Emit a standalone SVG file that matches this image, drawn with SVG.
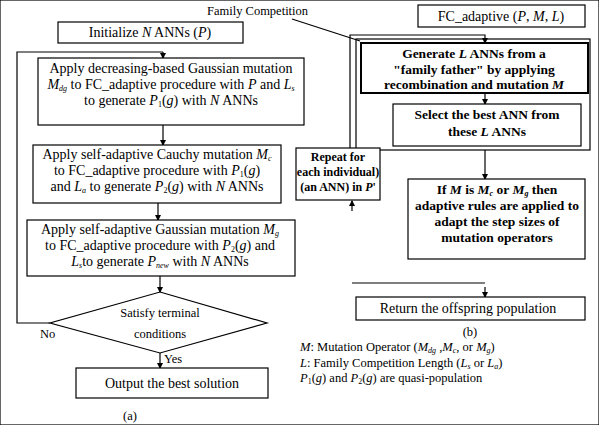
<svg xmlns="http://www.w3.org/2000/svg" width="599" height="425" viewBox="0 0 599 425">
<defs>
<marker id="ah" markerWidth="6" markerHeight="6" refX="5" refY="3" orient="auto" markerUnits="userSpaceOnUse">
<path d="M0,0 L6,3 L0,6 z" fill="#000"/>
</marker>
<style>
text{font-family:"Liberation Serif","Times New Roman",serif;font-size:14px;fill:#000}
.c{text-anchor:middle}
.b{font-weight:bold;font-size:13.5px}
.s{font-size:12.5px}
.r{font-size:12px}
.i{font-style:italic}
.sub{font-size:8px}
rect,polygon{fill:#fff;stroke:#000;stroke-width:1.2}
.thick{stroke-width:2}
line,polyline{stroke:#000;stroke-width:1.2;fill:none}
.arr{marker-end:url(#ah)}
</style>
</defs>
<rect width="599" height="425" fill="#fff" stroke="none"/>
<g id="connectors">
<polyline points="50,323 17,323 17,52 163,52" />
<line x1="163" y1="52" x2="163" y2="58" class="arr"/>
<line x1="163" y1="125" x2="163" y2="145" class="arr"/>
<line x1="158" y1="203" x2="158" y2="220" class="arr"/>
<line x1="160" y1="276" x2="160" y2="292" class="arr"/>
<line x1="160" y1="353" x2="160" y2="368" class="arr"/>
<line x1="292" y1="19" x2="360" y2="41"/>
<polyline points="350,148 350,35 485,35 485,43" class="arr"/>
<line x1="485" y1="93" x2="485" y2="104" class="arr"/>
<line x1="485" y1="150" x2="485" y2="179" class="arr"/>
<line x1="352" y1="211" x2="352" y2="201" class="arr"/>
<line x1="352" y1="283" x2="485" y2="283"/>
<line x1="485" y1="287" x2="485" y2="297" class="arr"/>
</g>
<g id="init">
<rect x="58" y="22" width="185" height="21"/>
<text x="150" y="37" class="c">Initialize <tspan class="i">N</tspan> ANNs (<tspan class="i">P</tspan>)</text>
</g>
<g id="box1">
<rect x="38" y="58" width="266" height="67"/>
<text x="171" y="73" class="c">Apply decreasing-based Gaussian mutation</text>
<text x="171" y="89" class="c"><tspan class="i">M</tspan><tspan class="sub i" dy="2">dg</tspan><tspan dy="-2"> to FC_adaptive procedure with </tspan><tspan class="i">P</tspan> and <tspan class="i">L</tspan><tspan class="sub i" dy="2">s</tspan></text>
<text x="171" y="105" class="c">to generate <tspan class="i">P</tspan><tspan class="sub" dy="2">1</tspan><tspan dy="-2">(</tspan><tspan class="i">g</tspan>) with <tspan class="i">N</tspan> ANNs</text>
</g>
<g id="box2">
<rect x="33" y="145" width="248" height="58"/>
<text x="157" y="159" class="c">Apply self-adaptive Cauchy mutation <tspan class="i">M</tspan><tspan class="sub i" dy="2">c</tspan></text>
<text x="157" y="175" class="c">to FC_adaptive procedure with <tspan class="i">P</tspan><tspan class="sub" dy="2">1</tspan><tspan dy="-2">(</tspan><tspan class="i">g</tspan>)</text>
<text x="157" y="191" class="c">and <tspan class="i">L</tspan><tspan class="sub i" dy="2">a</tspan><tspan dy="-2"> to generate </tspan><tspan class="i">P</tspan><tspan class="sub" dy="2">2</tspan><tspan dy="-2">(</tspan><tspan class="i">g</tspan>) with <tspan class="i">N</tspan> ANNs</text>
</g>
<g id="box3">
<rect x="27" y="220" width="268" height="56"/>
<text x="160" y="234" class="c">Apply self-adaptive Gaussian mutation <tspan class="i">M</tspan><tspan class="sub i" dy="2">g</tspan></text>
<text x="160" y="250" class="c">to FC_adaptive procedure with <tspan class="i">P</tspan><tspan class="sub" dy="2">2</tspan><tspan dy="-2">(</tspan><tspan class="i">g</tspan>) and</text>
<text x="160" y="266" class="c"><tspan class="i">L</tspan><tspan class="sub i" dy="2">s</tspan><tspan dy="-2">to generate </tspan><tspan class="i">P</tspan><tspan class="sub i" dy="2">new</tspan><tspan dy="-2"> with </tspan><tspan class="i">N</tspan> ANNs</text>
</g>
<g id="decision">
<polygon points="160,292 267,323 160,353 50,323"/>
<text x="160" y="317" class="c s">Satisfy terminal</text>
<text x="160" y="338" class="c s">conditions</text>
<text x="40" y="338" class="s">No</text>
<text x="164" y="363" class="s">Yes</text>
</g>
<g id="output">
<rect x="76" y="368" width="192" height="30"/>
<text x="172" y="388" class="c">Output the best solution</text>
<text x="130" y="420" class="c s">(a)</text>
</g>
<g id="fclabel">
<text x="207" y="15" class="s">Family Competition</text>
</g>
<g id="fcbox">
<rect x="418" y="5" width="167" height="22"/>
<text x="501" y="21" class="c">FC_adaptive (<tspan class="i">P</tspan>, <tspan class="i">M</tspan>, <tspan class="i">L</tspan>)</text>
</g>
<g id="frame">
<rect x="356" y="39" width="234" height="111" style="fill:none" stroke-width="1.5"/>
</g>
<g id="generate">
<rect x="361" y="43" width="227" height="50" class="thick"/>
<text x="474" y="58" class="c b">Generate <tspan class="i">L</tspan> ANNs from a</text>
<text x="474" y="74" class="c b">"family father" by applying</text>
<text x="474" y="89" class="c b">recombination and mutation <tspan class="i">M</tspan></text>
</g>
<g id="select">
<rect x="393" y="104" width="188" height="42"/>
<text x="487" y="119" class="c b">Select the best ANN from</text>
<text x="487" y="136" class="c b">these <tspan class="i">L</tspan> ANNs</text>
</g>
<g id="repeat">
<rect x="296" y="148" width="84" height="52"/>
<text x="338" y="161" class="c b r">Repeat for</text>
<text x="338" y="176" class="c b r">each individual)</text>
<text x="338" y="191" class="c b r">(an ANN) in <tspan class="i">P</tspan>'</text>
</g>
<g id="adaptive">
<rect x="408" y="179" width="177" height="80"/>
<text x="497" y="194" class="c b">If <tspan class="i">M</tspan> is <tspan class="i">M</tspan><tspan class="sub i" dy="2">c</tspan><tspan dy="-2"> or </tspan><tspan class="i">M</tspan><tspan class="sub i" dy="2">g</tspan><tspan dy="-2"> then</tspan></text>
<text x="497" y="210" class="c b">adaptive rules are applied to</text>
<text x="497" y="226" class="c b">adapt the step sizes of</text>
<text x="497" y="242" class="c b">mutation operators</text>
</g>
<g id="return">
<rect x="356" y="297" width="229" height="23"/>
<text x="468" y="313" class="c">Return the offspring population</text>
<text x="470" y="336" class="c s">(b)</text>
</g>
<g id="legend">
<text x="300" y="351" class="s"><tspan class="i">M</tspan>: Mutation Operator (<tspan class="i">M</tspan><tspan class="sub i" dy="2">dg</tspan><tspan dy="-2"> ,</tspan><tspan class="i">M</tspan><tspan class="sub i" dy="2">c</tspan><tspan dy="-2">, or </tspan><tspan class="i">M</tspan><tspan class="sub i" dy="2">g</tspan><tspan dy="-2">)</tspan></text>
<text x="300" y="366.5" class="s"><tspan class="i">L</tspan>: Family Competition Length (<tspan class="i">L</tspan><tspan class="sub i" dy="2">s</tspan><tspan dy="-2"> or </tspan><tspan class="i">L</tspan><tspan class="sub i" dy="2">a</tspan><tspan dy="-2">)</tspan></text>
<text x="300" y="382" class="s"><tspan class="i">P</tspan><tspan class="sub" dy="2">1</tspan><tspan dy="-2">(</tspan><tspan class="i">g</tspan>) and <tspan class="i">P</tspan><tspan class="sub" dy="2">2</tspan><tspan dy="-2">(</tspan><tspan class="i">g</tspan>) are quasi-population</text>
</g>
</svg>
